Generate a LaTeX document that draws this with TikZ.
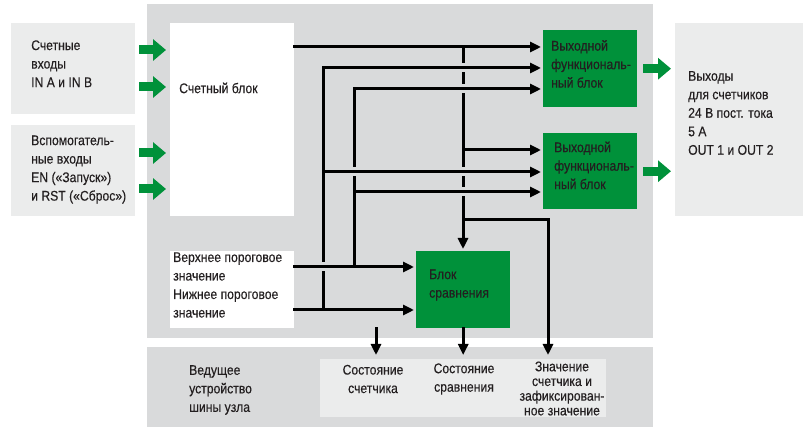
\documentclass[tikz,border=0pt]{standalone}
\usepackage{fontspec}
\setmainfont{Liberation Sans}[FakeStretch=0.87, FakeBold=0.35]
\usepackage{tikz}
\usetikzlibrary{positioning, arrows.meta, calc}

\definecolor{panelgrey}{HTML}{D9DADB}
\definecolor{boxgrey}{HTML}{EBECEC}
\definecolor{blockgreen}{HTML}{00913A}
\definecolor{textdark}{HTML}{231F20}

\begin{document}
\begin{tikzpicture}[
      x=1pt, y=-1pt, % pixel grid, y downwards
      >={Triangle[length=11pt,width=10pt]},
      font=\fontsize{14}{18.5}\selectfont,
      every node/.append style={text=textdark},
      plate/.style={inner sep=0pt, anchor=north west},
      sidebox/.style={plate, fill=boxgrey},
      whitebox/.style={plate, fill=white},
      greenblock/.style={plate, fill=blockgreen, minimum width=94pt, minimum height=77pt},
      txt/.style={inner sep=0pt, align=left, anchor=west},
      wire/.style={line width=3pt, black, line cap=rect},
      sig/.style={wire, ->, shorten >=2pt},
      bridge/.style={preaction={draw=panelgrey, -, line width=9pt, shorten <=8pt, shorten >=12pt}},
      fat/.style={line width=9pt, blockgreen, -{Triangle[length=13pt,width=21pt]}, shorten <=4pt, shorten >=4pt},
    ]
    \useasboundingbox (0,0) rectangle (803,427);

    % ---- panels ---------------------------------------------------------
    \fill[panelgrey] (147,4) rectangle (653,338);
    \fill[panelgrey] (147,347) rectangle (653,427);

    % ---- boxes ----------------------------------------------------------
    \node[sidebox, minimum width=124pt, minimum height=91pt] (inbox1) at (11,23) {};
    \node[sidebox, minimum width=124pt, minimum height=91pt] (inbox2) at (11,125) {};
    \node[sidebox, minimum width=128pt, minimum height=193pt] (outbox) at (675,23) {};
    \node[whitebox, minimum width=124pt, minimum height=193pt] (counter) at (170,23) {};
    \node[whitebox, minimum width=124pt, minimum height=77pt] (thr) at (170,251) {};
    \node[greenblock] (out1) at (543,30) {};
    \node[greenblock, minimum height=76pt] (out2) at (543,133) {};
    \node[greenblock] (cmp) at (416,251) {};
    \node[sidebox, minimum width=286pt, minimum height=58pt] (bus) at (320,359) {};

    % ---- texts ----------------------------------------------------------
    \node[txt] (tin1) at (31,63.7) {Счетные\\входы\\IN A и IN B};
    \node[txt] (tin2) at (31,169.5) {Вспомогатель-\\ные входы\\EN («Запуск»)\\и RST («Сброс»)};
    \node[txt] (tcounter) at (179,88) {Счетный блок};
    \node[txt] (tout1) at (551,64) {Выходной\\функциональ-\\ный блок};
    \node[txt] (tout2) at (554,165.5) {Выходной\\функциональ-\\ный блок};
    \node[txt] (toutbox) at (688,113) {Выходы\\для счетчиков\\24 В пост. тока\\5 А\\OUT 1 и OUT 2};
    \node[txt] (tthr) at (173,285) {Верхнее пороговое\\значение\\Нижнее пороговое\\значение};
    \node[txt] (tcmp) at (429,285) {Блок\\сравнения};
    \node[txt] (tmaster) at (189,390) {Ведущее\\устройство\\шины узла};
    \node[txt, align=center, anchor=center] (tstate) at (373,379) {Состояние\\счетчика};
    \node[txt, align=center, anchor=center] (tcmpstate) at (464,379) {Состояние\\сравнения};
    \node[txt, align=center, anchor=center, font=\fontsize{14}{14.7}\selectfont] (tvalue) at (562,388.5)
      {Значение\\счетчика и\\зафиксирован-\\ное значение};

    % ---- green arrows ---------------------------------------------------
    \coordinate (f1) at (0,50);
    \coordinate (f2) at (0,87);
    \coordinate (f3) at (0,153);
    \coordinate (f4) at (0,189);
    \draw[fat] (inbox1.east |- f1) -- (counter.west |- f1);
    \draw[fat] (inbox1.east |- f2) -- (counter.west |- f2);
    \draw[fat] (inbox2.east |- f3) -- (counter.west |- f3);
    \draw[fat] (inbox2.east |- f4) -- (counter.west |- f4);
    \draw[fat, shorten <=6pt] (out1.east) -- (outbox.west |- out1.east);
    \draw[fat, shorten <=6pt] (out2.east) -- (outbox.west |- out2.east);

    % ---- wiring rows and columns ----------------------------------------
    \coordinate (r1) at (0,47);
    \coordinate (r2) at (0,68);
    \coordinate (r3) at (0,89);
    \coordinate (r4) at (0,150);
    \coordinate (r5) at (0,172);
    \coordinate (r6) at (0,192);
    \coordinate (r7) at (0,220);
    \coordinate (rU) at (0,267);
    \coordinate (rL) at (0,310);
    \coordinate (cB) at (323,0);
    \coordinate (cC) at (354,0);
    \coordinate (cD) at (463,0);
    \coordinate (cE) at (548,0);
    \coordinate (cS) at (376,0);

    % ---- counter value bus ----------------------------------------------
    \draw[sig] (counter.east |- r1) -- (out1.west |- r1);
    \draw[sig] (cD |- r1) -- (cD |- cmp.north);
    \draw[sig] (cD |- r4) -- (out2.west |- r4);
    \draw[sig, shorten >=4pt] (cD |- r7) -- (cE |- r7) -- (cE |- bus.north);

    % ---- thresholds -----------------------------------------------------
    \draw[wire] (cB |- rL) -- (cB |- r2);
    \draw[sig] (thr.east |- rL) -- (cmp.west |- rL);
    \draw[sig, bridge] (thr.east |- rU) -- (cmp.west |- rU);
    \draw[wire] (cC |- rU) -- (cC |- r3);
    \draw[sig, bridge] (cB |- r2) -- (out1.west |- r2);
    \draw[sig, bridge] (cC |- r3) -- (out1.west |- r3);
    \draw[sig, bridge] (cB |- r5) -- (out2.west |- r5);
    \draw[sig, bridge] (cC |- r6) -- (out2.west |- r6);

    % ---- to the bus master ----------------------------------------------
    \draw[sig, shorten >=4pt] (cS |- cmp.south) -- (cS |- bus.north);
    \draw[sig, shorten >=4pt] (cmp.south) -- (cmp.south |- bus.north);
  \end{tikzpicture}
\end{document}
